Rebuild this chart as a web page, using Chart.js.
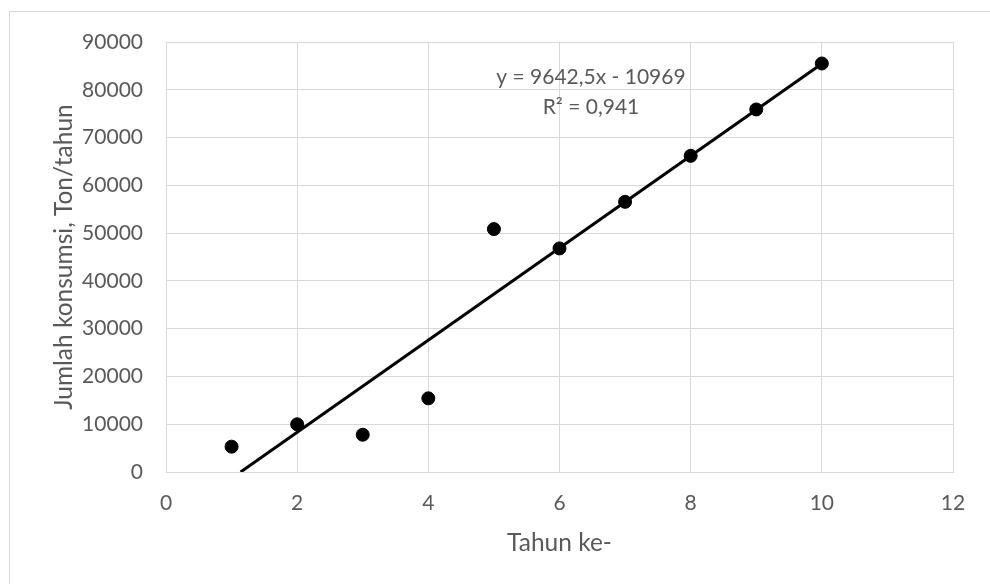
<!DOCTYPE html>
<html>
<head>
<meta charset="utf-8">
<script src="https://cdn.jsdelivr.net/npm/chart.js@4"></script>
<style>
  body { margin: 0; background: #fff; }
  #frame {
    position: absolute; left: 9px; top: 11px;
    width: 1000px; height: 600px;
    border: 1px solid #d9d9d9;
  }
  #chart { position: absolute; left: 0; top: 0; }
</style>
</head>
<body>
<div id="frame"></div>
<canvas id="chart" width="990" height="584"></canvas>
<script>
// Tahun ke- vs jumlah konsumsi (ton/tahun)
const years = [1, 2, 3, 4, 5, 6, 7, 8, 9, 10];
const consumption = [5300, 9980, 7800, 15420, 50840, 46800, 56550, 66170, 75880, 85500];

// linear trendline as printed on the chart
const slope = 9642.5;
const intercept = -10969;
const rSquared = '0,941';

const trendStart = -intercept / slope; // where the line meets y = 0
const trendEnd = years[years.length - 1];

const FONT = 'Lato, "Open Sans", sans-serif';
const TEXT = '#595959';
const GRID = '#d9d9d9';

const equationLabel = {
  id: 'equationLabel',
  afterDatasetsDraw(chart) {
    const { ctx, scales: { x, y } } = chart;
    const px = x.getPixelForValue(6.48);
    const py = y.getPixelForValue(82600);
    ctx.save();
    ctx.fillStyle = TEXT;
    ctx.font = '21px ' + FONT;
    ctx.textAlign = 'center';
    ctx.textBaseline = 'middle';
    ctx.fillText('y = ' + String(slope).replace('.', ',') + 'x - ' + Math.abs(intercept), px, py);
    ctx.fillText('R² = ' + rSquared, px, py + 30);
    ctx.restore();
  },
};

new Chart(document.getElementById('chart'), {
  type: 'scatter',
  data: {
    datasets: [
      {
        data: years.map((yr, i) => ({ x: yr, y: consumption[i] })),
        backgroundColor: '#000',
        borderColor: '#000',
        pointRadius: 6.5,
        order: 2,
      },
      {
        data: [
          { x: trendStart, y: slope * trendStart + intercept },
          { x: trendEnd, y: slope * trendEnd + intercept },
        ],
        showLine: true,
        borderColor: '#000',
        borderWidth: 3,
        pointRadius: 0,
        order: 1,
      },
    ],
  },
  options: {
    responsive: false,
    animation: false,
    devicePixelRatio: 1,
    layout: { padding: { left: 0, top: 42, right: 37, bottom: 0 } },
    scales: {
      x: {
        type: 'linear',
        min: 0,
        max: 12,
        ticks: {
          stepSize: 2,
          color: TEXT,
          font: { family: FONT, size: 21 },
          padding: 19,
          callback: (v) => String(v),
        },
        grid: { color: GRID, drawTicks: false },
        border: { color: GRID },
        title: {
          display: true,
          text: 'Tahun ke-',
          color: TEXT,
          font: { family: FONT, size: 24.5 },
          padding: { top: 0, bottom: 26 },
        },
        afterFit(scale) {
          scale.height = 112;
        },
      },
      y: {
        min: 0,
        max: 90000,
        ticks: {
          stepSize: 10000,
          color: TEXT,
          font: { family: FONT, size: 21 },
          padding: 23,
          callback: (v) => String(v),
        },
        grid: { color: GRID, drawTicks: false },
        border: { color: GRID },
        title: {
          display: true,
          text: 'Jumlah konsumsi, Ton/tahun',
          color: TEXT,
          font: { family: FONT, size: 24.5 },
          padding: { top: 49, bottom: 0 },
        },
        afterFit(scale) {
          scale.width = 166;
        },
      },
    },
    plugins: {
      legend: { display: false },
      tooltip: { enabled: false },
    },
  },
  plugins: [equationLabel],
});
</script>
</body>
</html>
